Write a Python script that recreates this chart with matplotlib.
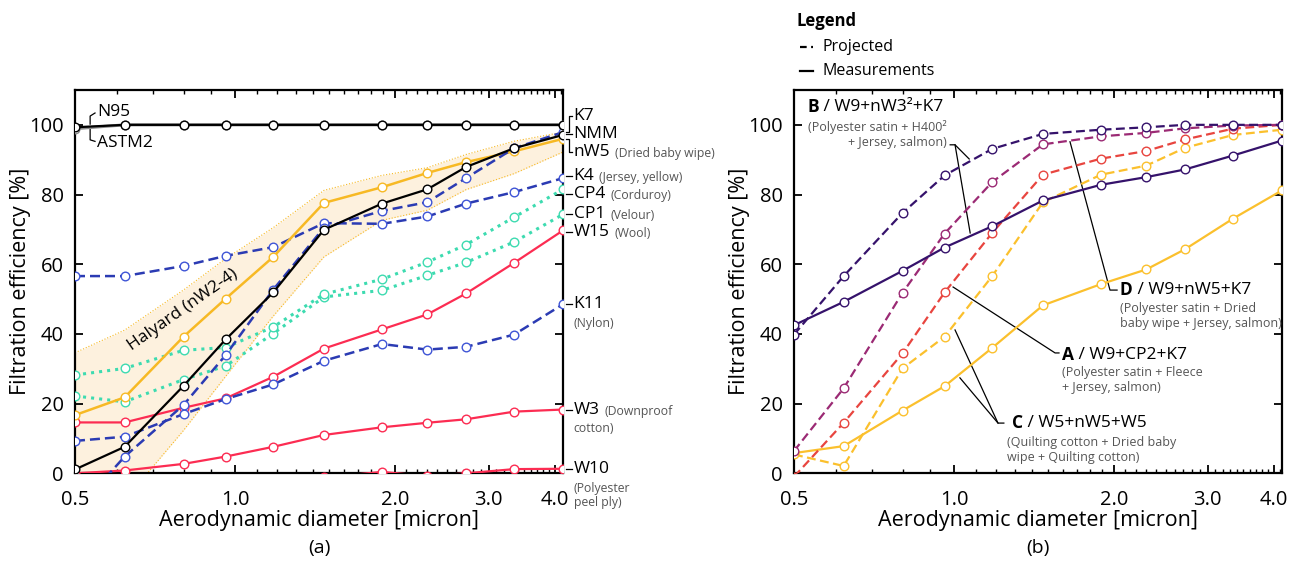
import numpy as np
import matplotlib
matplotlib.use("Agg")
import matplotlib.pyplot as plt
import matplotlib.transforms as mtransforms
from matplotlib.ticker import FixedLocator, NullFormatter

plt.rcParams['font.family'] = ['Open Sans', 'Noto Sans', 'DejaVu Sans']

# particle size channels (aerodynamic diameter, micron)
diam = [0.5, 0.62, 0.8, 0.96, 1.18, 1.47, 1.89, 2.3, 2.72, 3.35, 4.14]

# ---- panel (a): single layers ----
n95   = [99.3, 100, 100, 100, 100, 100, 100, 100, 100, 100, 100]
astm2 = [98.9, 100, 100, 100, 100, 100, 100, 100, 100, 100, 100]
nmm   = [1.1, 7.6, 25.1, 38.4, 51.9, 69.9, 77.4, 81.5, 87.9, 93.3, 97.1]
nw5   = [16.7, 21.8, 39.2, 50.1, 62.1, 77.6, 82.1, 86.2, 89.3, 92.4, 96.0]
k7    = [-11, 4.8, 19.6, 33.9, 52.7, 70.5, 75.3, 77.8, 84.7, 93.3, 97.9]
k4    = [56.6, 56.6, 59.5, 62.4, 64.9, 71.8, 71.6, 73.7, 77.4, 80.7, 84.7]
k11   = [9.3, 10.5, 17.0, 21.3, 25.5, 32.3, 37.1, 35.5, 36.3, 39.8, 48.5]
cp4   = [28.2, 30.1, 35.3, 36.1, 42.0, 51.4, 55.7, 60.6, 65.6, 73.5, 81.5]
cp1   = [22.2, 20.5, 26.9, 30.8, 40.1, 50.6, 52.5, 56.8, 60.5, 66.4, 74.3]
w15   = [14.6, 14.6, 18.8, 21.5, 27.7, 35.8, 41.3, 45.6, 51.6, 60.4, 69.7]
w3    = [0.0, 0.8, 2.7, 4.8, 7.6, 11.0, 13.2, 14.5, 15.5, 17.7, 18.3]
w10   = [-4, -3, -2.5, -2, -1.5, -1.2, 0.4, -0.8, 0.0, 1.2, 1.3]
halyard_lo = [-25, -7.7, 12.3, 27.8, 45.1, 62.1, 72.6, 75.5, 81.4, 86.0, 92.2]
halyard_hi = [34.6, 41.1, 52.6, 61.6, 70.5, 81.2, 85.5, 87.7, 91.5, 95.3, 97.9]

# ---- panel (b): three-layer combinations ----
b_proj = [39.8, 56.6, 74.7, 85.5, 93.1, 97.4, 98.6, 99.3, 100, 100, 100]
b_meas = [42.5, 49.2, 58.1, 64.8, 70.9, 78.3, 82.8, 85.0, 87.2, 91.2, 95.5]
d_proj = [6.4, 24.4, 51.8, 68.8, 83.6, 94.4, 96.7, 97.7, 99.0, 99.8, 100]
a_proj = [-1, 14.5, 34.4, 51.9, 69.0, 85.7, 90.3, 92.5, 95.8, 98.9, 100]
c_proj = [5.4, 2.1, 30.1, 39.2, 56.6, 77.8, 85.7, 88.3, 93.4, 97.1, 98.6]
c_meas = [5.8, 7.8, 18.0, 25.0, 36.0, 48.2, 54.3, 58.5, 64.3, 73.1, 81.2]

YEL = '#f7b924'
BLU = '#2b3bb3'
TEAL = '#3ddbb0'
RED = '#fc2c52'
GRAY_TXT = '#555555'
C_B = '#35126b'
C_D = '#9b2a74'
C_A = '#e8453f'
C_C = '#fbc02d'

fig = plt.figure(figsize=(12.92, 5.63), dpi=100)
W, H = 1292, 563
axA = fig.add_axes([75 / W, 1 - 473.3 / H, 488 / W, 383.3 / H])
axB = fig.add_axes([794 / W, 1 - 473.3 / H, 488 / W, 383.3 / H])
renderer = fig.canvas.get_renderer()


def line(ax, y, color, ls='-', lw=1.6, mec=None, z=3, dashes=None):
    kw = dict(color=color, ls=ls, lw=lw, marker='o', ms=6.2, mfc='white',
              mec=mec or color, mew=1.0, zorder=z)
    if dashes is not None:
        kw['dashes'] = dashes
    return ax.plot(diam, y, **kw)


def style(ax):
    ax.set_xscale('log')
    ax.set_xlim(diam[0], diam[-1])
    ax.set_ylim(0, 110)
    ax.xaxis.set_major_locator(FixedLocator([0.5, 1.0, 2.0, 3.0, 4.0]))
    ax.set_xticklabels(['0.5', '1.0', '2.0', '3.0', '4.0'])
    ax.xaxis.set_minor_locator(FixedLocator(np.arange(0.6, 4.15, 0.1)))
    ax.xaxis.set_minor_formatter(NullFormatter())
    ax.set_yticks([0, 20, 40, 60, 80, 100])
    ax.tick_params(which='both', direction='in', top=True, right=True,
                   labelsize=14.5, width=1.3)
    ax.tick_params(axis='x', which='major', pad=12)
    ax.tick_params(axis='y', which='major', pad=8)
    ax.tick_params(which='major', length=6)
    ax.tick_params(which='minor', length=3, width=1.0)
    for s in ax.spines.values():
        s.set_linewidth(1.6)
    ax.set_xlabel('Aerodynamic diameter [micron]', fontsize=15.5, labelpad=0)
    ax.set_ylabel('Filtration efficiency [%]', fontsize=15.5, labelpad=-1)


def combo_label(ax, x, y, letter, rest, sub, sub_x, sub_y, sub_ha='left'):
    ta = ax.transAxes
    t = ax.text(x, y, letter, transform=ta, fontsize=12.5, fontweight='bold',
                va='center')
    bb = t.get_window_extent(renderer=renderer)
    xr = ta.inverted().transform((bb.x1, 0))[0]
    ax.text(xr, y, ' / ' + rest, transform=ta, fontsize=12.5, va='center')
    ax.text(sub_x, sub_y, sub, transform=ta, fontsize=9, va='center', ha=sub_ha,
            multialignment=sub_ha, color=GRAY_TXT, linespacing=1.2)


# ---------------- panel (a) ----------------
ax = axA
ax.fill_between(diam, halyard_lo, halyard_hi, color='#fdf1de', lw=0, zorder=1)
ax.plot(diam, halyard_lo, color=YEL, lw=0.8, ls=':', zorder=1.5)
ax.plot(diam, halyard_hi, color=YEL, lw=0.8, ls=':', zorder=1.5)

line(ax, w10, RED)
line(ax, w3, RED)
line(ax, w15, RED)
line(ax, k11, BLU, dashes=(4, 2), lw=1.8, mec='#3f55d6')
line(ax, cp1, TEAL, ls=':', lw=2.2)
line(ax, cp4, TEAL, ls=':', lw=2.2)
line(ax, k4, BLU, dashes=(4, 2), lw=1.8, mec='#3f55d6')
line(ax, nw5, YEL, lw=1.8)
line(ax, k7, BLU, dashes=(4, 2), lw=1.8, mec='#3f55d6')
line(ax, nmm, 'black', lw=1.6)
line(ax, astm2, '#8a8a8a', lw=2.2, mec='#8a8a8a')
line(ax, n95, 'black', lw=1.6)

ax.text(0.222, 0.425, 'Halyard (nW2-4)', transform=ax.transAxes, fontsize=12.5,
        rotation=35, ha='center', va='center', zorder=2)

# left labels N95 / ASTM2
ax.plot([0.031, 0.031, 0.041], [0.911, 0.932, 0.940], color='black', lw=0.9,
        transform=ax.transAxes, clip_on=False)
ax.plot([0.031, 0.031, 0.041], [0.901, 0.870, 0.866], color='black', lw=0.9,
        transform=ax.transAxes, clip_on=False)
ax.text(0.046, 0.942, 'N95', transform=ax.transAxes, fontsize=12.5, va='center')
ax.text(0.046, 0.862, 'ASTM2', transform=ax.transAxes, fontsize=12.5, va='center')

# right-hand labels
trans = mtransforms.blended_transform_factory(ax.transAxes, ax.transData)
side = [
    ('K7', k7, 102.5, None, None),
    ('NMM', nmm, 97.3, None, None),
    ('nW5', nw5, 92.1, '(Dried baby wipe)', None),
    ('K4', k4, 85.3, '(Jersey, yellow)', None),
    ('CP4', cp4, 80.1, '(Corduroy)', None),
    ('CP1', cp1, 74.4, '(Velour)', None),
    ('W15', w15, 69.2, '(Wool)', None),
    ('K11', k11, 48.5, None, '(Nylon)'),
    ('W3', w3, 18.2, '(Downproof', 'cotton)'),
    ('W10', w10, 1.2, None, '(Polyester\npeel ply)'),
]
for name, ser, ylab, inline, below in side:
    yend = ser[-1]
    if abs(yend - ylab) > 1.5:
        ax.plot([1.007, 1.013, 1.013, 1.019], [yend, yend, ylab, ylab],
                color='black', lw=0.9, transform=trans, clip_on=False)
    else:
        ax.plot([1.007, 1.019], [ylab, ylab], color='black', lw=0.9,
                transform=trans, clip_on=False)
    t = ax.text(1.022, ylab, name, transform=trans, fontsize=12.5, va='center')
    if inline:
        bb = t.get_window_extent(renderer=renderer)
        xr = ax.transAxes.inverted().transform((bb.x1 + 5, 0))[0]
        ax.text(xr, ylab - 0.4, inline, transform=trans, fontsize=8.8,
                va='center', color=GRAY_TXT)
    if below:
        ax.text(1.022, ylab - 3.6, below, transform=trans, fontsize=8.8,
                va='top', color=GRAY_TXT, linespacing=1.15)

style(ax)

# ---------------- panel (b) ----------------
ax = axB
line(ax, c_meas, C_C, lw=1.6)
line(ax, c_proj, C_C, lw=1.6, dashes=(4, 2))
line(ax, a_proj, C_A, lw=1.6, dashes=(4, 2))
line(ax, d_proj, C_D, lw=1.6, dashes=(4, 2))
line(ax, b_meas, C_B, lw=1.6)
line(ax, b_proj, C_B, lw=1.6, dashes=(4, 2))

ta = ax.transAxes
combo_label(ax, 0.027, 0.956, 'B', 'W9+nW3²+K7',
            '(Polyester satin + H400²\n+ Jersey, salmon)', 0.312, 0.883, 'right')
ax.plot([0.320, 0.330, 0.359], [0.857, 0.857, 0.820], color='black', lw=0.9, transform=ta)
ax.plot([0.330, 0.361], [0.857, 0.627], color='black', lw=0.9, transform=ta)

combo_label(ax, 0.668, 0.478, 'D', 'W9+nW5+K7',
            '(Polyester satin + Dried\nbaby wipe + Jersey, salmon)', 0.668, 0.410)
ax.plot([0.5656, 0.6475, 0.662], [0.865, 0.478, 0.478], color='black', lw=0.9, transform=ta)

combo_label(ax, 0.549, 0.309, 'A', 'W9+CP2+K7',
            '(Polyester satin + Fleece\n+ Jersey, salmon)', 0.549, 0.243)
ax.plot([0.326, 0.535, 0.543], [0.486, 0.314, 0.314], color='black', lw=0.9, transform=ta)

combo_label(ax, 0.446, 0.130, 'C', 'W5+nW5+W5',
            '(Quilting cotton + Dried baby\nwipe + Quilting cotton)', 0.436, 0.061)
ax.plot([0.330, 0.418, 0.430], [0.374, 0.131, 0.131], color='black', lw=0.9, transform=ta)
ax.plot([0.340, 0.418], [0.249, 0.131], color='black', lw=0.9, transform=ta)

style(ax)

# legend above panel (b)
fig.text(797 / W, 1 - 21 / H, 'Legend', fontsize=12, fontweight='bold', va='center')
fig.add_artist(plt.Line2D([800 / W, 813 / W], [1 - 47 / H] * 2, color='black',
                          lw=1.6, dashes=(3, 2)))
fig.add_artist(plt.Line2D([800 / W, 813 / W], [1 - 71 / H] * 2, color='black', lw=1.6))
fig.text(823 / W, 1 - 47 / H, 'Projected', fontsize=11.5, va='center')
fig.text(823 / W, 1 - 71 / H, 'Measurements', fontsize=11.5, va='center')

fig.text(319 / W, 1 - 548 / H, '(a)', fontsize=14, ha='center', va='center')
fig.text(1038 / W, 1 - 548 / H, '(b)', fontsize=14, ha='center', va='center')

fig.savefig('out.png', dpi=100)
